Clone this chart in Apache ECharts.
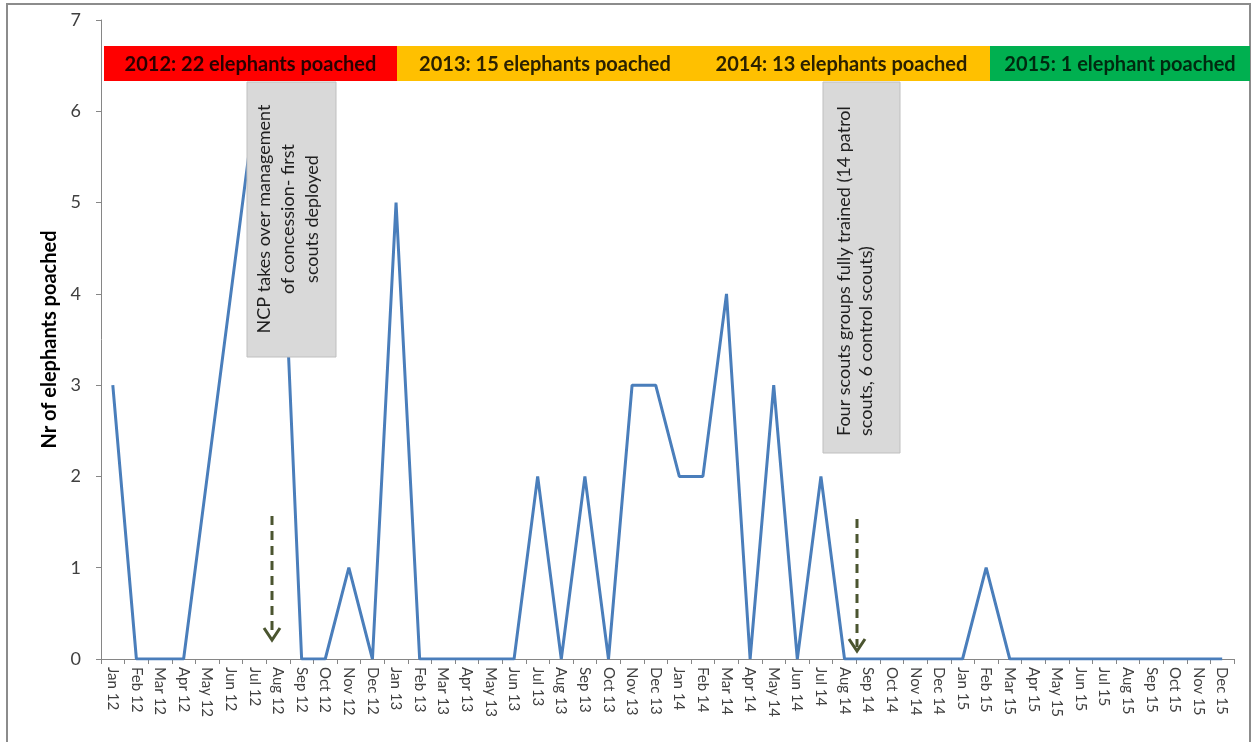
<!DOCTYPE html>
<html>
<head>
<meta charset="utf-8">
<script src="https://cdn.jsdelivr.net/npm/echarts@6/dist/echarts.min.js"></script>
<style>
  html, body { margin: 0; padding: 0; background: #ffffff; }
  #chart { width: 1253px; height: 742px; }
</style>
</head>
<body>
<div id="chart"></div>
<script>
// Monthly elephant poaching counts, Jan 2012 – Dec 2015
const months = [
  'Jan 12', 'Feb 12', 'Mar 12', 'Apr 12', 'May 12', 'Jun 12', 'Jul 12', 'Aug 12', 'Sep 12', 'Oct 12', 'Nov 12', 'Dec 12',
  'Jan 13', 'Feb 13', 'Mar 13', 'Apr 13', 'May 13', 'Jun 13', 'Jul 13', 'Aug 13', 'Sep 13', 'Oct 13', 'Nov 13', 'Dec 13',
  'Jan 14', 'Feb 14', 'Mar 14', 'Apr 14', 'May 14', 'Jun 14', 'Jul 14', 'Aug 14', 'Sep 14', 'Oct 14', 'Nov 14', 'Dec 14',
  'Jan 15', 'Feb 15', 'Mar 15', 'Apr 15', 'May 15', 'Jun 15', 'Jul 15', 'Aug 15', 'Sep 15', 'Oct 15', 'Nov 15', 'Dec 15'
];

const poached2012 = [3, 0, 0, 0, 2, 4, 6, 6, 0, 0, 1, 0];
const poached2013 = [5, 0, 0, 0, 0, 0, 2, 0, 2, 0, 3, 3];
const poached2014 = [2, 2, 4, 0, 3, 0, 2, 0, 0, 0, 0, 0];
const poached2015 = [0, 1, 0, 0, 0, 0, 0, 0, 0, 0, 0, 0];

const yTicks = [0, 1, 2, 3, 4, 5, 6, 7];

// Yearly summary banners
const bannerLabels = [
  '2012: 22 elephants poached',
  '2013: 15 elephants poached',
  '2014: 13 elephants poached',
  '2015: 1 elephant poached'
];

// Milestone notes
const noteNCP = 'NCP takes over management\nof concession- first\nscouts deployed';
const noteScouts = 'Four scouts groups fully trained (14 patrol\nscouts, 6 control scouts)';

const poached = [].concat(poached2012, poached2013, poached2014, poached2015);

const FONT = 'Lato, "Liberation Sans", sans-serif';

// banner geometry: [x0, x1], colors
const bannerSpans = [[104, 397], [397, 693], [693, 990], [990, 1250]];
const bannerFills = ['#ff0000', '#ffc000', '#ffc000', '#00b050'];
const bannerText = ['#2a0000', '#2b2100', '#2b2100', '#002a10'];
const bannerTop = 46, bannerH = 35;

const graphics = [];

// outer frame
graphics.push({
  type: 'rect', z: 1, silent: true,
  shape: { x: 7, y: 4, width: 1243, height: 760 },
  style: { fill: 'none', stroke: '#8c8c8c', lineWidth: 2 }
});

bannerLabels.forEach(function (label, i) {
  const span = bannerSpans[i];
  graphics.push({
    type: 'rect', z: 50, silent: true,
    shape: { x: span[0], y: bannerTop, width: span[1] - span[0], height: bannerH },
    style: { fill: bannerFills[i] }
  });
  graphics.push({
    type: 'text', z: 51, silent: true,
    x: (span[0] + span[1]) / 2, y: bannerTop + bannerH / 2 + 1,
    style: {
      text: label, fill: bannerText[i], font: 'bold 20px ' + FONT,
      align: 'center', verticalAlign: 'middle'
    }
  });
});

// milestone note boxes
function noteBox(x, y, w, h, text, align, tx, ty, size, lh) {
  graphics.push({
    type: 'rect', z: 60, silent: true,
    shape: { x: x, y: y, width: w, height: h },
    style: { fill: '#d9d9d9', stroke: '#bfbfbf', lineWidth: 1 }
  });
  graphics.push({
    type: 'text', z: 61, silent: true,
    x: tx, y: ty, rotation: Math.PI / 2,
    style: {
      text: text, fill: '#1f1f1f', font: size + 'px ' + FONT, lineHeight: lh,
      align: align, verticalAlign: 'middle'
    }
  });
}
noteBox(247, 82, 89, 275, noteNCP, 'center', 288, 219, 18, 24);
noteBox(823, 82, 77, 371, noteScouts, 'left', 855, 436, 18, 22);

// dashed arrows marking the milestones
function arrow(x, y0, y1) {
  const col = '#4b5530';
  graphics.push({
    type: 'line', z: 70, silent: true,
    shape: { x1: x, y1: y0, x2: x, y2: y1 - 4 },
    style: { stroke: col, lineWidth: 3, lineDash: [9, 6] }
  });
  graphics.push({
    type: 'polyline', z: 70, silent: true,
    shape: { points: [[x - 8, y1 - 12], [x, y1], [x + 8, y1 - 12]] },
    style: { stroke: col, lineWidth: 3, fill: 'none' }
  });
}
arrow(272, 516, 640);
arrow(857, 519, 651);

const option = {
  backgroundColor: '#ffffff',
  animation: false,
  grid: { left: 101, right: 19, top: 20, bottom: 83, containLabel: false },
  xAxis: {
    type: 'category',
    data: months,
    boundaryGap: true,
    axisLine: { lineStyle: { color: '#868686', width: 1 } },
    axisTick: { show: true, length: 5, lineStyle: { color: '#868686' } },
    axisLabel: {
      rotate: -90, interval: 0, margin: 8,
      color: '#404040', fontSize: 15, fontFamily: FONT
    },
    splitLine: { show: false }
  },
  yAxis: {
    type: 'value',
    min: yTicks[0], max: yTicks[yTicks.length - 1], interval: 1,
    name: 'Nr of elephants poached',
    nameLocation: 'middle', nameGap: 40,
    nameTextStyle: { color: '#000000', fontSize: 20, fontWeight: 'bold', fontFamily: FONT },
    axisLine: { show: true, lineStyle: { color: '#868686', width: 1 } },
    axisTick: { show: true, length: 5, lineStyle: { color: '#868686' } },
    axisLabel: { color: '#404040', fontSize: 18, fontFamily: FONT, margin: 20 },
    splitLine: { show: false }
  },
  series: [{
    type: 'line',
    data: poached,
    showSymbol: false,
    symbol: 'none',
    lineStyle: { color: '#4a7ebb', width: 3 },
    z: 5
  }],
  graphic: graphics
};

const chart = echarts.init(document.getElementById('chart'), null, { renderer: 'canvas' });
chart.setOption(option);
</script>
</body>
</html>
